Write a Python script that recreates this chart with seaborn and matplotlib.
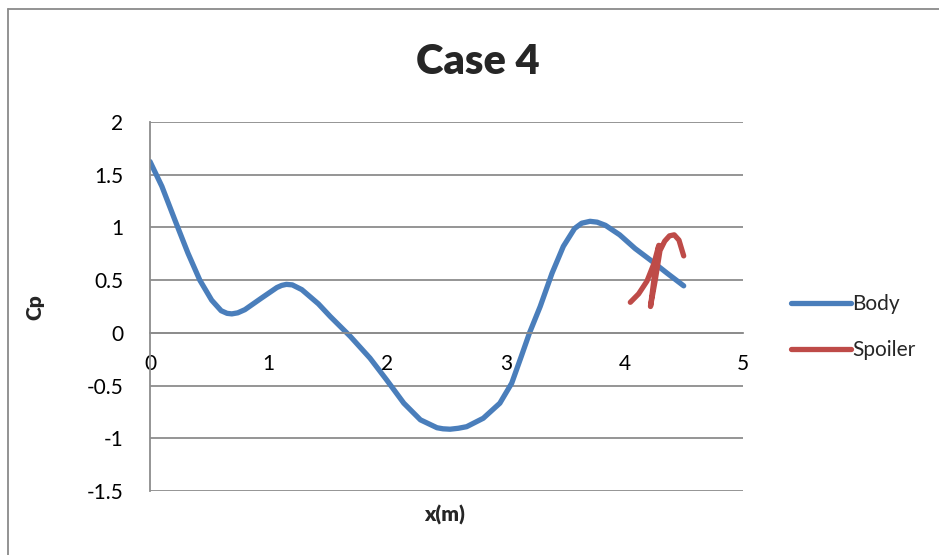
import matplotlib
matplotlib.use("Agg")
import matplotlib.pyplot as plt
from matplotlib.lines import Line2D
import seaborn as sns
import pandas as pd

# ---- data ----
body_x = [0.00, 0.10, 0.21, 0.32, 0.42, 0.52, 0.60, 0.65, 0.69, 0.74, 0.80, 0.94, 1.07, 1.11,
          1.15, 1.20, 1.28, 1.42, 1.52, 1.69, 1.855, 1.995, 2.14, 2.28, 2.42, 2.47, 2.53,
          2.60, 2.67, 2.81, 2.95, 3.05, 3.13, 3.20, 3.29, 3.39, 3.485, 3.58, 3.64, 3.71,
          3.77, 3.84, 3.96, 4.09, 4.22, 4.36, 4.50]
body_y = [1.625, 1.39, 1.07, 0.756, 0.50, 0.31, 0.21, 0.185, 0.18, 0.19, 0.22, 0.33, 0.43, 0.45,
          0.46, 0.455, 0.41, 0.275, 0.155, -0.035, -0.24, -0.446, -0.667, -0.825, -0.90, -0.91, -0.914,
          -0.905, -0.89, -0.81, -0.667, -0.477, -0.225, 0.0, 0.25, 0.566, 0.82, 0.99, 1.04, 1.058,
          1.05, 1.02, 0.93, 0.80, 0.69, 0.566, 0.446]

spoiler_x = [4.05, 4.12, 4.19, 4.25, 4.29, 4.26, 4.22, 4.26, 4.30, 4.34, 4.38, 4.42, 4.46, 4.50]
spoiler_y = [0.29, 0.37, 0.49, 0.66, 0.83, 0.60, 0.25, 0.50, 0.78, 0.87, 0.92, 0.93, 0.88, 0.73]

series_names = ["Body", "Spoiler"]
series_colors = ["#4A7EBB", "#BE4B48"]
x_ticks = [0, 1, 2, 3, 4, 5]
y_ticks = [2, 1.5, 1, 0.5, 0, -0.5, -1, -1.5]
y_tick_labels = ["2", "1.5", "1", "0.5", "0", "-0.5", "-1", "-1.5"]

title = "Case 4"
x_label = "x(m)"
y_label = "Cp"

series_data = {series_names[0]: (body_x, body_y), series_names[1]: (spoiler_x, spoiler_y)}

sns.set_style("white")
plt.rcParams["font.family"] = ["Lato", "DejaVu Sans"]

fig = plt.figure(figsize=(9.39, 5.55), dpi=100)
ax = fig.add_axes([150 / 939, 1 - 491 / 555, (743 - 150) / 939, (491 - 122) / 555])

grid_col = "#8C8C8C"
for v in y_ticks:
    ax.axhline(v, color=grid_col, lw=1.3, zorder=0)

for name, col in zip(series_names, series_colors):
    xs, ys = series_data[name]
    d = pd.DataFrame({"x": xs, "y": ys})
    sns.lineplot(data=d, x="x", y="y", sort=False, estimator=None,
                 color=col, linewidth=3.8, ax=ax, solid_capstyle="round",
                 solid_joinstyle="round")

ax.set_xlim(0, 5)
ax.set_ylim(-1.5, 2)
ax.set_xticks(x_ticks)
ax.set_xticklabels([str(t) for t in x_ticks])
ax.set_yticks(y_ticks)
ax.set_yticklabels(y_tick_labels)

for s in ["top", "right"]:
    ax.spines[s].set_visible(False)
ax.spines["bottom"].set_position(("data", 0))
ax.spines["bottom"].set_color(grid_col)
ax.spines["bottom"].set_linewidth(1.3)
ax.spines["left"].set_color(grid_col)
ax.spines["left"].set_linewidth(1.3)

ax.tick_params(axis="x", length=0, pad=15, labelsize=15, colors="black")
ax.tick_params(axis="y", length=0, pad=19, labelsize=15, colors="black")
ax.set_xlabel("")
ax.set_ylabel("")

fig.text(445 / 939, 1 - 515 / 555, x_label, ha="center", va="center",
         fontsize=15, fontweight="heavy")
fig.text(35 / 939, 1 - 307 / 555, y_label, ha="center", va="center",
         fontsize=15, fontweight="heavy", rotation=90)
fig.text(478 / 939, 1 - 62 / 555, title, ha="center", va="center",
         fontsize=30, fontweight="heavy")

handles = [Line2D([0], [0], color=c, lw=3.8, solid_capstyle="round") for c in series_colors]
fig.legend(handles, series_names, loc="center left",
           bbox_to_anchor=(772 / 939, 1 - 327 / 555), frameon=False,
           fontsize=15, handlelength=2.9, handletextpad=0.05, labelspacing=1.25)

# chart area border (left and top visible)
fig.add_artist(Line2D([8 / 939, 8 / 939], [0, 1 - 9 / 555], color="#8A8A8A", lw=1.3,
                      transform=fig.transFigure))
fig.add_artist(Line2D([8 / 939, 1], [1 - 9 / 555, 1 - 9 / 555], color="#8A8A8A", lw=1.3,
                      transform=fig.transFigure))

fig.savefig("out.png", dpi=100, facecolor="white")
